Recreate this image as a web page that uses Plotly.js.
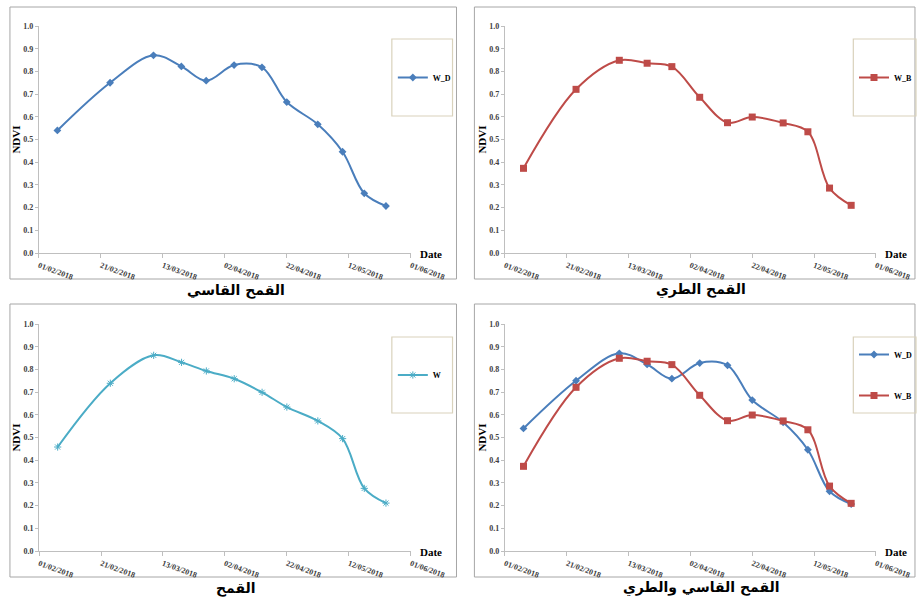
<!DOCTYPE html>
<html>
<head>
<meta charset="utf-8">
<script src="https://cdn.plot.ly/plotly-3.0.1.min.js"></script>
<style>html,body{margin:0;padding:0;background:#fff;}#chart{width:917px;height:604px;}</style>
</head>
<body>
<div id="chart"></div>
<script>
// ---- data ----
const dates = ['2018-02-07','2018-02-24','2018-03-10','2018-03-19','2018-03-27','2018-04-05','2018-04-14','2018-04-22','2018-05-02','2018-05-10','2018-05-17','2018-05-24'];
const W_D = [0.54, 0.75, 0.871, 0.822, 0.759, 0.828, 0.818, 0.665, 0.567, 0.446, 0.263, 0.207];
const W_B = [0.373, 0.721, 0.849, 0.836, 0.821, 0.686, 0.574, 0.599, 0.573, 0.534, 0.286, 0.21];
const W   = [0.458, 0.739, 0.862, 0.831, 0.793, 0.759, 0.699, 0.634, 0.573, 0.495, 0.276, 0.211];
const tickVals = ['2018-02-01','2018-02-21','2018-03-13','2018-04-02','2018-04-22','2018-05-12','2018-06-01'];
const tickText = ['01/02/2018','21/02/2018','13/03/2018','02/04/2018','22/04/2018','12/05/2018','01/06/2018'];
const panelTitles = ['القمح القاسي','القمح الطري','القمح','القمح القاسي والطري'];

// ---- layout helpers ----
const FW = 917, FH = 604;
const px = x => x / FW;
const py = y => 1 - y / FH;
const serif = 'Liberation Serif, Times New Roman, serif';
const cBlue = '#4A7EBB', cRed = '#BE4B48', cCyan = '#4BACC6';
const axisGrey = '#BFBFBF';

const panels = [
  {l:39,   r:413,   t:26,  b:253, frame:[10,7,459,279],   lbox:[394,39,455,116], title:[237,290]},
  {l:507.7,r:880.7, t:26,  b:253, frame:[477,7,920,279],  lbox:[858,39,921,116], title:[705,290]},
  {l:39.3, r:413,   t:324, b:551, frame:[10,304,459,577], lbox:[394,337,455,413], title:[237,588]},
  {l:507.7,r:880.7, t:324, b:551, frame:[477,304,920,577],lbox:[858,337,921,413], title:[705,588]}
];

const layout = {
  width: FW, height: FH,
  margin: {l:0, r:0, t:0, b:0},
  paper_bgcolor: '#fff', plot_bgcolor: '#fff',
  showlegend: true,
  shapes: [], annotations: []
};

panels.forEach((p, i) => {
  const n = i === 0 ? '' : String(i + 1);
  layout['xaxis' + n] = {
    domain: [px(p.l), px(p.r)], anchor: 'y' + n, type: 'date',
    range: ['2018-02-01', '2018-06-01'],
    tickmode: 'array', tickvals: tickVals, ticktext: tickText, tickangle: 20,
    tickfont: {family: serif, size: 8, color: '#404040', weight: 'bold'},
    showline: true, linecolor: axisGrey, linewidth: 1,
    ticks: 'outside', ticklen: 4, tickcolor: axisGrey,
    showgrid: false, zeroline: false, automargin: false, fixedrange: true
  };
  layout['yaxis' + n] = {
    domain: [py(p.b), py(p.t)], anchor: 'x' + n,
    range: [0, 1], dtick: 0.1, tick0: 0, tickformat: '.1f',
    tickfont: {family: serif, size: 8, color: '#404040', weight: 'bold'},
    showline: true, linecolor: axisGrey, linewidth: 1,
    ticks: 'outside', ticklen: 3, tickcolor: axisGrey,
    showgrid: false, zeroline: false, automargin: false, fixedrange: true,
    title: {text: 'NDVI', font: {family: serif, size: 11, color: '#000', weight: 'bold'}, standoff: 0}
  };
  // panel frame
  layout.shapes.push({type:'rect', xref:'paper', yref:'paper',
    x0: px(p.frame[0]), x1: px(p.frame[2]), y0: py(p.frame[3]), y1: py(p.frame[1]),
    line: {color: '#A6A6A6', width: 1}, fillcolor: 'rgba(0,0,0,0)', layer: 'below'});
  // legend box
  layout.shapes.push({type:'rect', xref:'paper', yref:'paper',
    x0: px(p.lbox[0]), x1: px(p.lbox[2]), y0: py(p.lbox[3]), y1: py(p.lbox[1]),
    line: {color: '#D9D2BC', width: 1.2}, fillcolor: 'rgba(0,0,0,0)'});
  // legend
  const lname = i === 0 ? 'legend' : 'legend' + (i + 1);
  layout[lname] = {
    x: px(p.lbox[0] + 1), xanchor: 'left',
    y: py((p.lbox[1] + p.lbox[3]) / 2), yanchor: 'middle',
    bgcolor: 'rgba(0,0,0,0)', borderwidth: 0, itemwidth: 30,
    tracegroupgap: 22,
    font: {family: serif, size: 8, color: '#000', weight: 'bold'}
  };
  // "Date" label
  layout.annotations.push({xref:'paper', yref:'paper', x: px(p.r + 20), y: py(p.b + 1),
    text: 'Date', showarrow: false, xanchor: 'center', yanchor: 'middle',
    font: {family: serif, size: 11, color: '#000', weight: 'bold'}});
  // panel caption
  layout.annotations.push({xref:'paper', yref:'paper', x: px(p.title[0]), y: py(p.title[1]),
    text: panelTitles[i], showarrow: false, xanchor: 'center', yanchor: 'middle',
    font: {family: 'DejaVu Sans, sans-serif', size: 14, color: '#000', weight: 'bold'}});
});

const mkD = {symbol: 'diamond', size: 6, color: cBlue};
const mkB = {symbol: 'square', size: 7, color: cRed};
const mkW = {symbol: 'asterisk-open', size: 6, color: cCyan, line: {color: cCyan, width: 1}};
const ln = c => ({color: c, width: 2, shape: 'spline', smoothing: 1});

const traces = [
  {x: dates, y: W_D, name: 'W_D', mode: 'lines+markers', xaxis: 'x', yaxis: 'y', line: ln(cBlue), marker: mkD, legend: 'legend'},
  {x: dates, y: W_B, name: 'W_B', mode: 'lines+markers', xaxis: 'x2', yaxis: 'y2', line: ln(cRed), marker: mkB, legend: 'legend2'},
  {x: dates, y: W, name: 'W', mode: 'lines+markers', xaxis: 'x3', yaxis: 'y3', line: ln(cCyan), marker: mkW, legend: 'legend3'},
  {x: dates, y: W_D, name: 'W_D', mode: 'lines+markers', xaxis: 'x4', yaxis: 'y4', line: ln(cBlue), marker: mkD, legend: 'legend4', legendgroup: 'd'},
  {x: dates, y: W_B, name: 'W_B', mode: 'lines+markers', xaxis: 'x4', yaxis: 'y4', line: ln(cRed), marker: mkB, legend: 'legend4', legendgroup: 'b'}
];

Plotly.newPlot('chart', traces, layout, {staticPlot: true, displayModeBar: false});
</script>
</body>
</html>
